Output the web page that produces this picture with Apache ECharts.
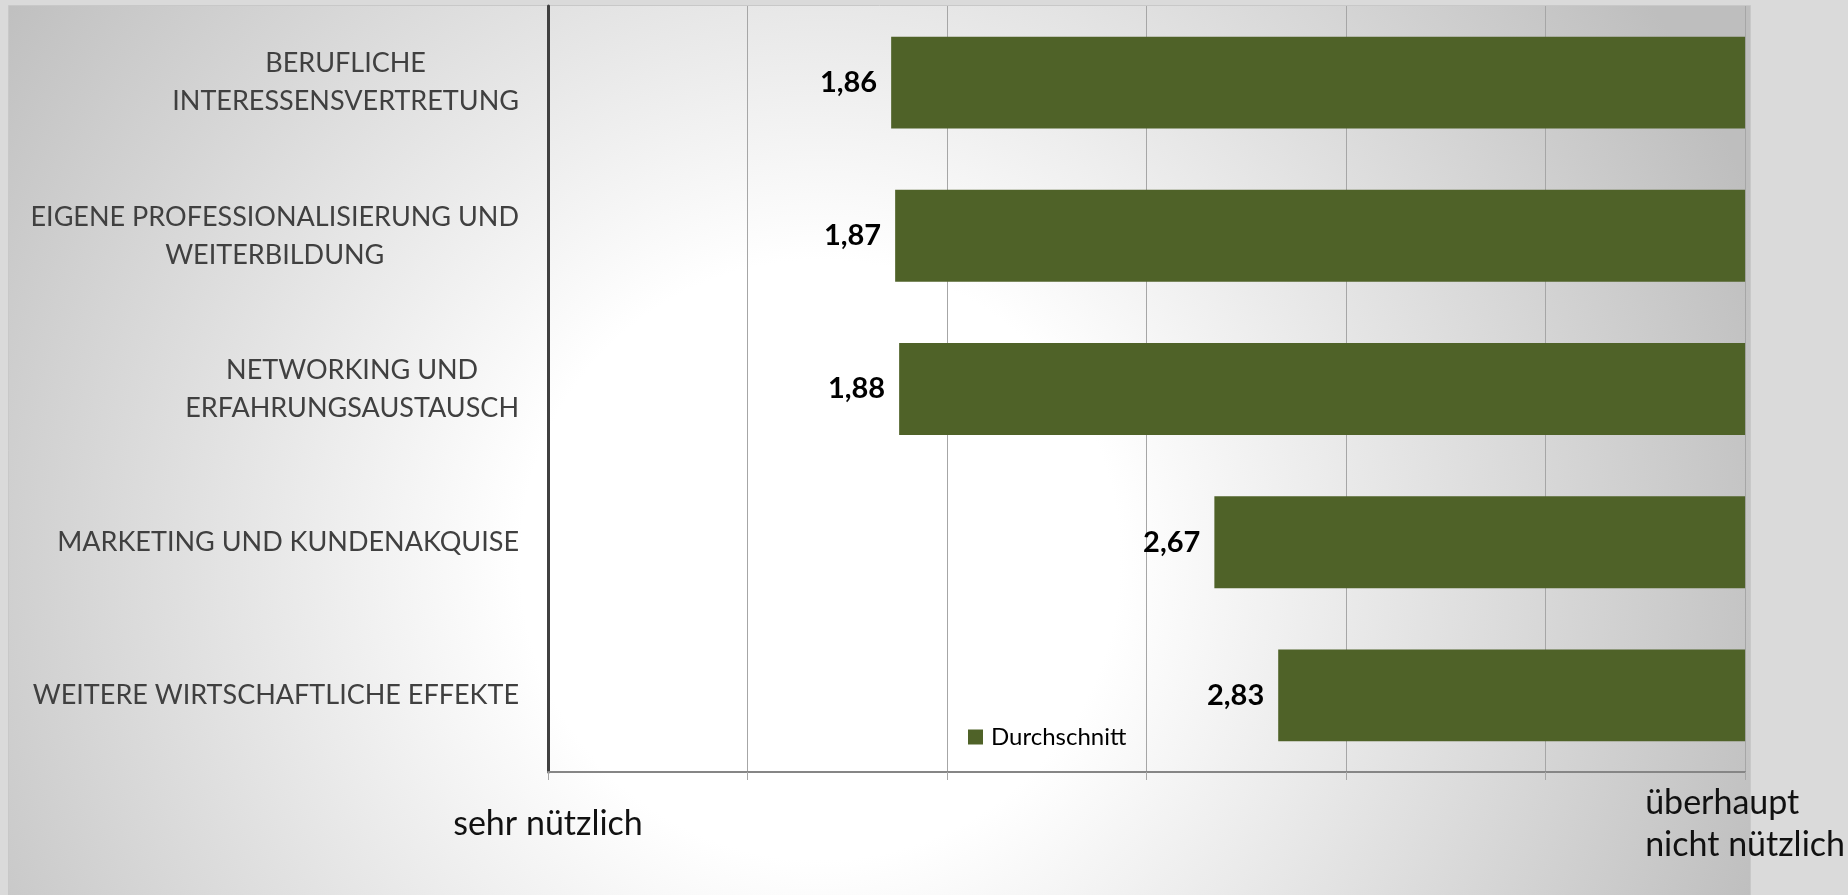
<!DOCTYPE html>
<html>
<head>
<meta charset="utf-8">
<script src="https://cdn.jsdelivr.net/npm/echarts@6/dist/echarts.min.js"></script>
<style>
  html, body { margin: 0; padding: 0; background: #dadada; }
  #chart { width: 1848px; height: 895px; }
</style>
</head>
<body>
<div id="chart"></div>
<script>
// Kategorien (von oben nach unten)
var categories = [
  'BERUFLICHE\nINTERESSENSVERTRETUNG',
  'EIGENE PROFESSIONALISIERUNG UND\nWEITERBILDUNG',
  'NETWORKING UND\nERFAHRUNGSAUSTAUSCH',
  'MARKETING UND KUNDENAKQUISE',
  'WEITERE WIRTSCHAFTLICHE EFFEKTE'
]
// Durchschnittswerte (1 = sehr nützlich, 4 = überhaupt nicht nützlich)
var averages = [1.86, 1.87, 1.88, 2.67, 2.83]
var scaleMin = 1
var scaleMax = 4
var scaleStep = 0.5
var endLabels = ['sehr nützlich', 'überhaupt\nnicht nützlich']

// Balken gehen vom Wert bis zum Skalenende (Achse kreuzt beim Maximum)
var baseData = averages.map(function (v) { return v })
var barData = averages.map(function (v) { return scaleMax - v })

var chart = echarts.init(document.getElementById('chart'))
chart.setOption({
  backgroundColor: '#dadada',
  animation: false,
  graphic: [
    {
      type: 'rect',
      z: -10,
      silent: true,
      shape: { x: 8.5, y: 5.5, width: 1742, height: 900 },
      style: {
        fill: {
          type: 'radial', x: 820, y: 560, r: 1000, global: true,
          colorStops: [
            { offset: 0, color: '#ffffff' },
            { offset: 0.3, color: '#ffffff' },
            { offset: 1, color: '#bebebe' }
          ]
        },
        stroke: '#c8c8c8',
        lineWidth: 1
      }
    }
  ],
  legend: {
    data: ['Durchschnitt'],
    left: 968,
    top: 725,
    padding: 0,
    icon: 'rect',
    itemWidth: 15,
    itemHeight: 15,
    itemGap: 10,
    textStyle: { fontFamily: 'Lato', fontSize: 24, color: '#000000', padding: [0, 0, 0, 3] }
  },
  grid: {
    left: 548,
    right: 102,
    top: 6,
    bottom: 123
  },
  xAxis: {
    type: 'value',
    min: scaleMin,
    max: scaleMax,
    interval: scaleStep,
    axisLine: { show: true, lineStyle: { color: '#868686', width: 2 } },
    axisTick: { show: true, length: 8, lineStyle: { color: '#a6a6a6', width: 1 } },
    splitLine: { show: true, lineStyle: { color: '#a6a6a6', width: 1 } },
    axisLabel: {
      showMinLabel: true,
      showMaxLabel: true,
      margin: 52,
      verticalAlign: 'middle',
      align: 'center',
      formatter: function (v) {
        if (v === scaleMin) return '{s|' + endLabels[0] + '}'
        if (v === scaleMax) return endLabels[1].split('\n').map(function (l) { return '{e|' + l + '}' }).join('\n')
        return ''
      },
      rich: {
        s: { fontFamily: 'Lato', fontSize: 34, color: '#111111', lineHeight: 42 },
        e: { fontFamily: 'Lato', fontSize: 34, color: '#111111', lineHeight: 42, align: 'left' }
      }
    }
  },
  yAxis: {
    type: 'category',
    inverse: true,
    data: categories,
    axisLine: { show: true, lineStyle: { color: '#404040', width: 3 } },
    axisTick: { show: false },
    axisLabel: {
      margin: 29,
      align: 'right',
      formatter: function (v) {
        return v.split('\n').map(function (l) { return '{c|' + l + '}' }).join('\n')
      },
      rich: {
        c: { fontFamily: 'Lato', fontSize: 27, color: '#404040', lineHeight: 38, align: 'center' }
      }
    }
  },
  series: [
    {
      name: 'Basis',
      type: 'bar',
      stack: 'total',
      barWidth: '60%',
      silent: true,
      itemStyle: { color: 'rgba(0,0,0,0)' },
      data: baseData
    },
    {
      name: 'Durchschnitt',
      type: 'bar',
      stack: 'total',
      barWidth: '60%',
      itemStyle: { color: '#4f6228' },
      label: {
        show: true,
        position: 'left',
        distance: 14,
        fontFamily: 'Lato',
        fontSize: 29,
        fontWeight: 'bold',
        color: '#000000',
        formatter: function (p) {
          return averages[p.dataIndex].toFixed(2).replace('.', ',')
        }
      },
      data: barData
    }
  ]
})
</script>
</body>
</html>
